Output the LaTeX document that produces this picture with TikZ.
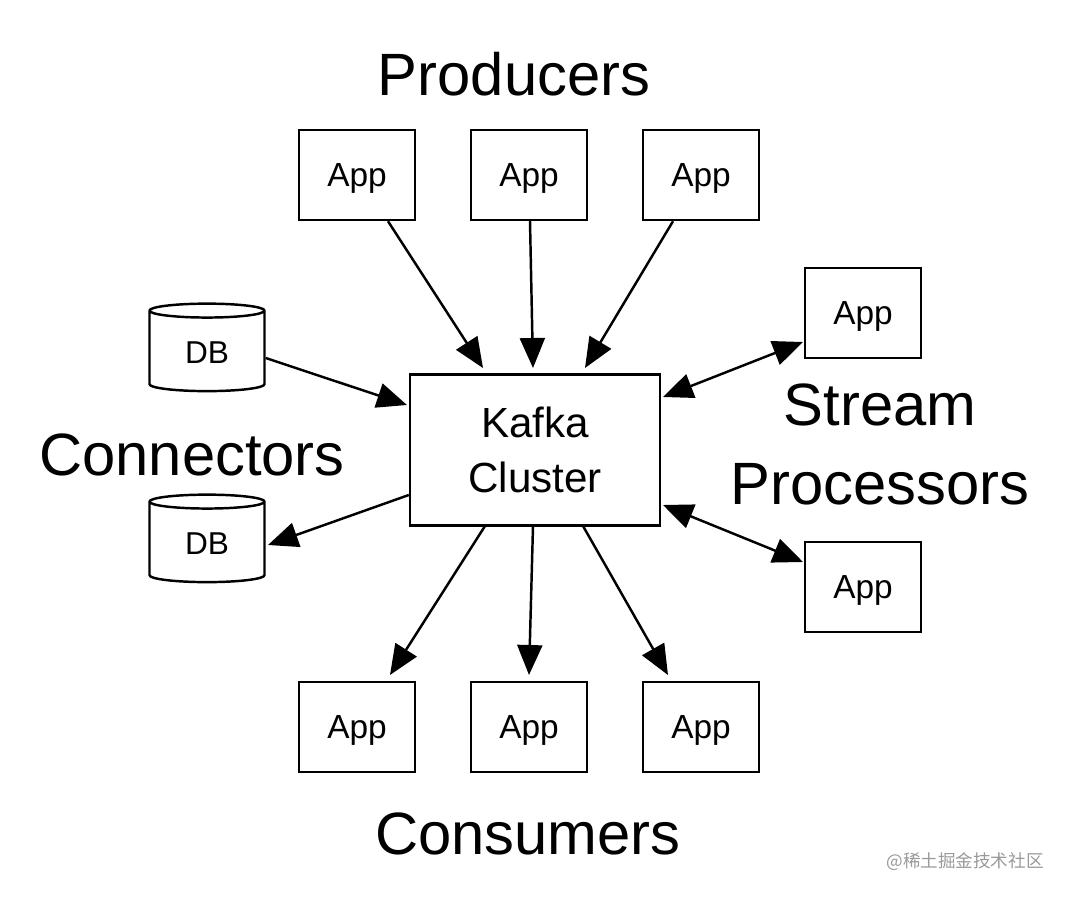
\documentclass[tikz,border=0pt]{standalone}
\usepackage{fontspec}
\setmainfont{Liberation Sans}
\newfontfamily\cjk{Noto Sans CJK SC}
\usetikzlibrary{arrows.meta,shapes.geometric}
\tikzset{
  appbox/.style={draw, line width=1.4pt, minimum width=2.32cm, minimum height=1.8cm, text depth=0pt, font=\fontsize{19}{20}\selectfont},
  dbnode/.style={draw, line width=1.4pt, cylinder, shape border rotate=90, aspect=0.25, minimum width=2.3cm, minimum height=1.75cm, font=\fontsize{18}{20}\selectfont},
  title/.style={font=\fontsize{34}{36}\selectfont, align=center},
  link/.style={line width=1.4pt, -{Stealth[length=0.6cm,width=0.5cm,inset=0pt]}},
  duallink/.style={line width=1.4pt, {Stealth[length=0.6cm,width=0.5cm,inset=0pt]}-{Stealth[length=0.6cm,width=0.5cm,inset=0pt]}}
}
\begin{document}
\begin{tikzpicture}[x=0.02cm, y=-0.02cm]
\useasboundingbox (0,0) rectangle (1069,899);

% Kafka cluster
\node[draw, line width=1.4pt, minimum width=5cm, minimum height=3.02cm, align=center, font=\fontsize{24}{31}\selectfont] (kafka) at (535,450) {Kafka\\Cluster};

% producers
\node[title] (prodtitle) at (514,74) {Producers};
\node[appbox] (p1) at (357,175) {App};
\node[appbox] (p2) at (529,175) {App};
\node[appbox] (p3) at (701,175) {App};

% consumers
\node[title] (constitle) at (528,834) {Consumers};
\node[appbox] (c1) at (357,727) {App};
\node[appbox] (c2) at (529,727) {App};
\node[appbox] (c3) at (701,727) {App};

% stream processors
\node[title, font=\fontsize{34}{45}\selectfont] (streamtitle) at (880,444) {Stream\\Processors};
\node[appbox] (s1) at (863,313) {App};
\node[appbox] (s2) at (863,587) {App};

% connectors
\node[title] (conntitle) at (192,455) {Connectors};
\node[dbnode] (db1) at (207,353) {DB};
\node[dbnode] (db2) at (207,544) {DB};

% arrows
\draw[link] (p1.south -| 388,0) -- (483,368);
\draw[link] (p2.south -| 530,0) -- (533,368);
\draw[link] (p3.south -| 673,0) -- (585,368);
\draw[link] (db1.east |- 0,358) -- (407,405);
\draw[link] (kafka.west |- 0,495) -- (268,545);
\draw[duallink] (663,397) -- (803,342);
\draw[duallink] (663,505) -- (803,562);
\draw[link] (485,526) -- (390,675);
\draw[link] (533,526) -- (529,675);
\draw[link] (583,526) -- (668,675);

% watermark
\node[text=gray!80, font=\cjk\fontsize{10}{12}\selectfont] (mark) at (965,862) {@稀土掘金技术社区};
\end{tikzpicture}
\end{document}
